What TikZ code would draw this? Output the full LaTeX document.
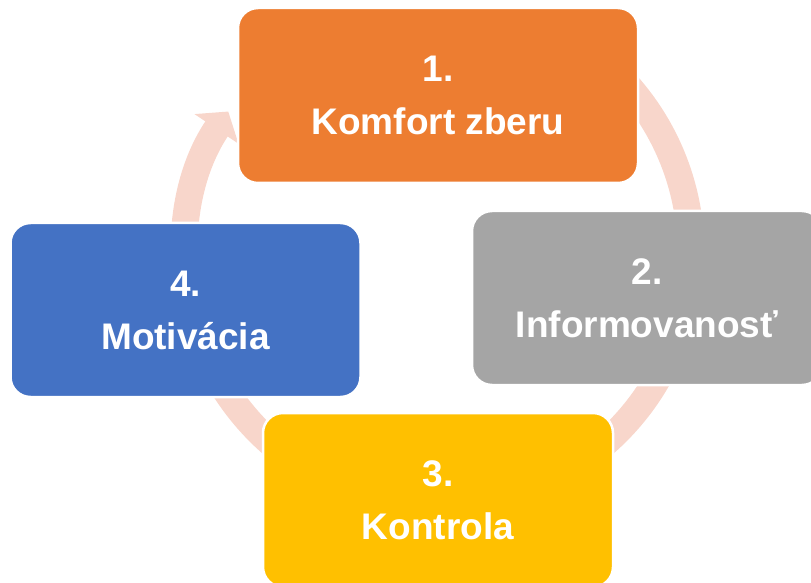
\documentclass[tikz,border=0pt]{standalone}
\usepackage{fontspec}
\setmainfont{Liberation Sans}
\usepackage{xcolor}
\usetikzlibrary{arrows.meta}
\definecolor{boxorange}{RGB}{237,125,49}
\definecolor{boxgray}{RGB}{165,165,165}
\definecolor{boxgold}{RGB}{255,192,0}
\definecolor{boxblue}{RGB}{68,114,196}
\definecolor{ringpink}{RGB}{248,214,203}
\tikzset{
    mybox/.style = {rectangle, rounded corners=20pt, draw=white, line width=2.5pt, align=center,
        text=white, font=\bfseries\fontsize{37}{53}\selectfont, minimum width=350pt, minimum height=174pt},
    myboxo/.style = {mybox, fill=boxorange, minimum width=400pt, minimum height=175pt},
    myboxg/.style = {mybox, fill=boxgray},
    myboxy/.style = {mybox, fill=boxgold},
    myboxb/.style = {mybox, fill=boxblue},
}

\begin{document}
\begin{tikzpicture}[
	x=1pt, y=1pt
]
\tikzset{
    edgec/.style = {draw=ringpink, line width=27pt},
    edgeh/.style = {edgec, -{Triangle[length=21pt, width=52pt]}}
}
\clip (0,0) rectangle (811,582);
\coordinate (ring) at (438,329);
%
\draw[edgec] (ring) ++(60:253pt) arc[start angle=60, end angle=0, radius=253pt];
\draw[edgec] (ring) ++(-20:253pt) arc[start angle=-20, end angle=-70, radius=253pt];
\draw[edgec] (ring) ++(250:253pt) arc[start angle=250, end angle=190, radius=253pt];
\draw[edgeh] (ring) ++(205:253pt) arc[start angle=205, end angle=146, radius=253pt];
%
\node[myboxo] at (438,486.5) (k1) {1.\\Komfort zberu};
\node[myboxg] at (647,284) (k2) {2.\\Informovanosť};
\node[myboxy] at (438,82) (k3) {3.\\Kontrola};
\node[myboxb] at (185.5,272) (k4) {4.\\Motivácia};
\end{tikzpicture}
\end{document}
